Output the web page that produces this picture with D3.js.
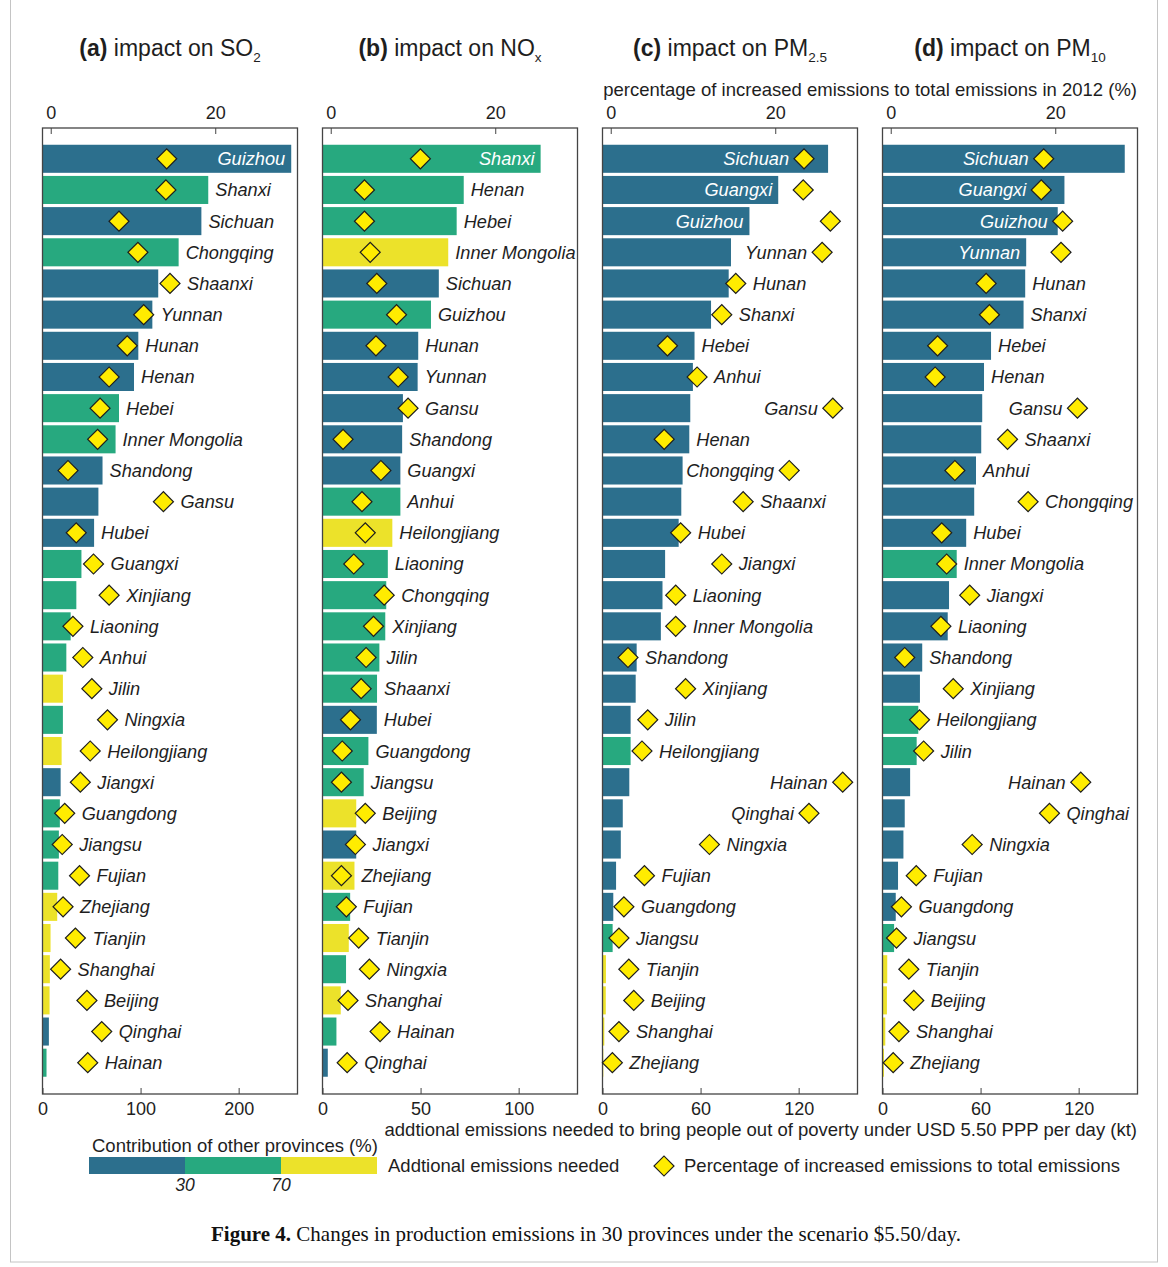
<!DOCTYPE html>
<html>
<head>
<meta charset="utf-8">
<script src="https://cdn.jsdelivr.net/npm/d3@7"></script>
<style>
  body { margin: 0; background: #fff; }
  svg { display: block; font-family: "Liberation Sans", Arial, Helvetica, sans-serif; }
</style>
</head>
<body>
<div id="chart"></div>
<script>
// contribution of other provinces: L = below 30 %, M = 30-70 %, H = above 70 %

// (a) SO2
const provincesSO2 = ['Guizhou','Shanxi','Sichuan','Chongqing','Shaanxi','Yunnan','Hunan','Henan','Hebei','Inner Mongolia',
  'Shandong','Gansu','Hubei','Guangxi','Xinjiang','Liaoning','Anhui','Jilin','Ningxia','Heilongjiang',
  'Jiangxi','Guangdong','Jiangsu','Fujian','Zhejiang','Tianjin','Shanghai','Beijing','Qinghai','Hainan'];
const emissionsSO2 = [253.6,169,162,138.8,118,112,97.7,93.3,78,74.5,61.2,57,52.6,39.7,34.5,28.7,24.3,20.8,20.8,19.5,
  18.5,17.7,16.7,16.1,15,8.2,7.5,7.2,6.5,4.1];
const percentSO2 = [14.1,14.0,8.3,10.6,14.5,11.3,9.3,7.1,6.0,5.7,2.1,13.7,3.1,5.2,7.1,2.7,3.9,5.0,6.9,4.8,
  3.6,1.7,1.4,3.5,1.5,3.0,1.2,4.4,6.2,4.5];
const contribSO2 = ['L','M','L','M','L','L','L','L','M','M','L','L','L','M','M','M','M','H','M','H',
  'L','M','M','M','H','H','H','H','L','M'];

// (b) NOx
const provincesNOx = ['Shanxi','Henan','Hebei','Inner Mongolia','Sichuan','Guizhou','Hunan','Yunnan','Gansu','Shandong',
  'Guangxi','Anhui','Heilongjiang','Liaoning','Chongqing','Xinjiang','Jilin','Shaanxi','Hubei','Guangdong',
  'Jiangsu','Beijing','Jiangxi','Zhejiang','Fujian','Tianjin','Ningxia','Shanghai','Hainan','Qinghai'];
const emissionsNOx = [111.2,72,68.4,64.1,59.3,55.3,48.8,48.5,41,40.6,39.7,39.7,35.6,33.3,32.5,32,29,27.8,27.7,23.4,
  21,17.2,17.2,16.3,14.1,13.4,12,9.3,7.1,2.7];
const percentNOx = [10.9,4.1,4.1,4.8,5.6,8.0,5.5,8.2,9.4,1.5,6.1,3.8,4.2,2.8,6.5,5.2,4.3,3.7,2.4,1.4,
  1.3,4.2,3.0,1.3,1.9,3.4,4.7,2.1,6.0,2.0];
const contribNOx = ['M','M','M','H','L','M','L','L','L','L','L','M','H','M','M','M','M','M','L','M',
  'M','H','L','H','M','H','M','H','M','L'];

// (c) PM2.5
const provincesPM25 = ['Sichuan','Guangxi','Guizhou','Yunnan','Hunan','Shanxi','Hebei','Anhui','Gansu','Henan',
  'Chongqing','Shaanxi','Hubei','Jiangxi','Liaoning','Inner Mongolia','Shandong','Xinjiang','Jilin','Heilongjiang',
  'Hainan','Qinghai','Ningxia','Fujian','Guangdong','Jiangsu','Tianjin','Beijing','Shanghai','Zhejiang'];
const emissionsPM25 = [138,107.5,89.9,78.6,77.2,66.4,56.3,55.3,53.7,53.1,49,48.2,46.6,38.3,36.7,35.7,20.9,20.3,17.2,17.2,
  16.4,12.4,11.2,8.3,6.6,6.2,2.1,2.0,1.1,0.5];
const percentPM25 = [23.5,23.4,26.7,25.7,15.2,13.5,6.9,10.5,27.0,6.5,21.7,16.1,8.5,13.5,7.9,7.9,2.1,9.1,4.5,3.8,
  28.2,24.1,12.0,4.1,1.6,1.0,2.2,2.8,1.0,0.2];
const contribPM25 = ['L','L','L','L','L','L','L','L','L','L','L','L','L','L','L','L','L','L','L','M',
  'L','L','L','L','L','M','H','H','H','H'];

// (d) PM10
const provincesPM10 = ['Sichuan','Guangxi','Guizhou','Yunnan','Hunan','Shanxi','Hebei','Henan','Gansu','Shaanxi',
  'Anhui','Chongqing','Hubei','Inner Mongolia','Jiangxi','Liaoning','Shandong','Xinjiang','Heilongjiang','Jilin',
  'Hainan','Qinghai','Ningxia','Fujian','Guangdong','Jiangsu','Tianjin','Beijing','Shanghai','Zhejiang'];
const emissionsPM10 = [148.2,111.3,107.2,87.9,87.3,86.3,66.4,62.1,61,60.4,57.2,56.1,51.2,45.4,40.7,39.9,24.3,22.9,21.9,20.9,
  16.9,13.6,12.8,9.5,8.1,7.1,2.9,2.7,1.7,0.9];
const percentPM10 = [18.6,18.3,20.9,20.7,11.6,12.0,5.7,5.4,22.7,14.2,7.8,16.7,6.2,6.8,9.6,6.1,1.7,7.6,3.5,4.0,
  23.1,19.3,9.9,3.1,1.3,0.7,2.2,2.8,1.0,0.3];
const contribPM10 = ['L','L','L','L','L','L','L','L','L','L','L','L','L','M','L','L','L','L','M','M',
  'L','L','L','L','L','M','H','H','H','H'];

// panel titles and axes
const titleLetters = ['(a)', '(b)', '(c)', '(d)'];
const titleSpecies = ['SO', 'NO', 'PM', 'PM'];
const titleSubs = ['2', 'x', '2.5', '10'];
const ktMax = [260, 130, 156, 156];
const ktTicks = [[0, 100, 200], [0, 50, 100], [0, 60, 120], [0, 60, 120]];
const pctTicks = [0, 20];
const legendBreaks = ['30', '70'];

const panels = [
  {prov: provincesSO2, kt: emissionsSO2, pct: percentSO2, cls: contribSO2},
  {prov: provincesNOx, kt: emissionsNOx, pct: percentNOx, cls: contribNOx},
  {prov: provincesPM25, kt: emissionsPM25, pct: percentPM25, cls: contribPM25},
  {prov: provincesPM10, kt: emissionsPM10, pct: percentPM10, cls: contribPM10}
];

const colour = d3.scaleOrdinal().domain(['L', 'M', 'H']).range(['#2c6f8d', '#27a97f', '#ece22a']);
const diamondFill = '#ffec00';
const ink = '#1e1e1e';
const frameTop = 128, frameBottom = 1094, frameW = 255;
const r = 10;
const diamond = d3.symbol().type(d3.symbolSquare).size(2 * r * r);
const textSize = 18.5;
const labelSize = 18.2;

const svg = d3.select('#chart').append('svg')
  .attr('width', 1168)
  .attr('height', 1267);

// light outer border of the figure
svg.append('rect')
  .attr('x', 10.5).attr('y', -2)
  .attr('width', 1147).attr('height', 1264)
  .attr('fill', 'none').attr('stroke', '#c4c4c4');

panels.forEach(function(p, i) {
  const L = 42.5 + i * 280, R = L + frameW;
  const x = d3.scaleLinear().domain([0, ktMax[i]]).range([L, R]);
  const xp = d3.scaleLinear().domain([-1, 30]).range([L, R]);
  const y = d3.scaleBand().domain(p.prov).range([143.2, 1078.3]).paddingInner(0.1).paddingOuter(0.05);
  const rows = p.prov.map(function(d, k) { return {name: d, kt: p.kt[k], pct: p.pct[k], cls: p.cls[k]}; });

  const g = svg.append('g');

  // title
  const t = g.append('text')
    .attr('x', (L + R) / 2)
    .attr('y', 56)
    .attr('text-anchor', 'middle')
    .attr('font-size', 23)
    .attr('fill', ink);
  t.append('tspan').attr('font-weight', 'bold').text(titleLetters[i]);
  t.append('tspan').text(' impact on ' + titleSpecies[i]);
  t.append('tspan').attr('font-size', 13.5).attr('dy', 6).text(titleSubs[i]);

  // bars
  g.selectAll('.bar')
    .data(rows)
    .enter()
    .append('rect')
    .attr('class', 'bar')
    .attr('x', L)
    .attr('y', function(d) { return y(d.name); })
    .attr('width', function(d) { return x(d.kt) - L; })
    .attr('height', y.bandwidth())
    .attr('fill', function(d) { return colour(d.cls); });

  // frame
  g.append('rect')
    .attr('x', L).attr('y', frameTop)
    .attr('width', frameW).attr('height', frameBottom - frameTop)
    .attr('fill', 'none').attr('stroke', '#444').attr('stroke-width', 1.3);

  // top axis (percentage)
  g.append('g')
    .attr('transform', 'translate(0,' + frameTop + ')')
    .call(d3.axisTop(xp).tickValues(pctTicks).tickSize(-6).tickSizeOuter(0).tickPadding(9))
    .call(function(a) { a.select('.domain').remove(); })
    .call(function(a) {
      a.attr('font-family', null).attr('font-size', 18);
      a.selectAll('line').attr('stroke', '#444');
      a.selectAll('text').attr('fill', ink);
    });

  // bottom axis (kt)
  g.append('g')
    .attr('transform', 'translate(0,' + frameBottom + ')')
    .call(d3.axisBottom(x).tickValues(ktTicks[i]).tickSize(-6).tickSizeOuter(0).tickPadding(8))
    .call(function(a) { a.select('.domain').remove(); })
    .call(function(a) {
      a.attr('font-family', null).attr('font-size', 18);
      a.selectAll('line').attr('stroke', '#444');
      a.selectAll('text').attr('fill', ink);
    });

  // diamonds
  g.selectAll('.dia')
    .data(rows)
    .enter()
    .append('path')
    .attr('class', 'dia')
    .attr('d', diamond)
    .attr('transform', function(d) { return 'translate(' + xp(d.pct) + ',' + (y(d.name) + y.bandwidth() / 2) + ') rotate(45)'; })
    .attr('fill', diamondFill)
    .attr('stroke', ink)
    .attr('stroke-width', 1.2);

  // province labels, placed beside the bar / diamond
  g.selectAll('.lab')
    .data(rows)
    .enter()
    .append('text')
    .attr('class', 'lab')
    .attr('y', function(d) { return y(d.name) + y.bandwidth() / 2 + 6.5; })
    .attr('font-size', labelSize)
    .attr('font-style', 'italic')
    .text(function(d) { return d.name; })
    .each(function(d) {
      const w = this.getComputedTextLength();
      const xb = x(d.kt), xd = xp(d.pct);
      const el = d3.select(this);
      const startRight = Math.max(xb, xd + r) + 7;
      if (startRight + w <= R + 1.5) {
        el.attr('x', startRight).attr('text-anchor', 'start').attr('fill', ink);
      } else if (xd - r > xb && xd - r - 5 - w >= xb + 1) {
        el.attr('x', xd - r - 5).attr('text-anchor', 'end').attr('fill', ink);
      } else {
        let end = xb - 6;
        if (xd + r + 6 + w > end) end = Math.min(end, xd - r - 5);
        el.attr('x', end).attr('text-anchor', 'end').attr('fill', '#fff');
      }
    });
});

// shared axis titles
svg.append('text')
  .attr('x', 1137).attr('y', 96)
  .attr('text-anchor', 'end')
  .attr('font-size', textSize).attr('fill', ink)
  .text('percentage of increased emissions to total emissions in 2012 (%)');

svg.append('text')
  .attr('x', 1137).attr('y', 1136)
  .attr('text-anchor', 'end')
  .attr('font-size', textSize).attr('fill', ink)
  .text('addtional emissions needed to bring people out of poverty under USD 5.50 PPP per day (kt)');

// legend
const legX = d3.scaleLinear().domain([0, 100]).range([89, 377]);
const legendBands = [
  {from: 0, to: 33.33, cls: 'L'},
  {from: 33.33, to: 66.67, cls: 'M'},
  {from: 66.67, to: 100, cls: 'H'}
];

svg.append('text')
  .attr('x', 92).attr('y', 1152)
  .attr('font-size', textSize).attr('fill', ink)
  .text('Contribution of other provinces (%)');

svg.selectAll('.legband')
  .data(legendBands)
  .enter()
  .append('rect')
  .attr('class', 'legband')
  .attr('x', function(d) { return legX(d.from); })
  .attr('y', 1157)
  .attr('width', function(d) { return legX(d.to) - legX(d.from); })
  .attr('height', 17)
  .attr('fill', function(d) { return colour(d.cls); });

svg.selectAll('.legbreak')
  .data(legendBreaks)
  .enter()
  .append('text')
  .attr('class', 'legbreak')
  .attr('x', function(d, k) { return legX(legendBands[k].to); })
  .attr('y', 1191)
  .attr('text-anchor', 'middle')
  .attr('font-size', 17.5)
  .attr('font-style', 'italic')
  .attr('fill', ink)
  .text(function(d) { return d; });

svg.append('text')
  .attr('x', 388).attr('y', 1172)
  .attr('font-size', textSize).attr('fill', ink)
  .text('Addtional emissions needed');

svg.append('path')
  .attr('d', diamond)
  .attr('transform', 'translate(664,1166) rotate(45)')
  .attr('fill', diamondFill)
  .attr('stroke', ink)
  .attr('stroke-width', 1.2);

svg.append('text')
  .attr('x', 684).attr('y', 1172)
  .attr('font-size', textSize).attr('fill', ink)
  .text('Percentage of increased emissions to total emissions');

// caption
const cap = svg.append('text')
  .attr('x', 586).attr('y', 1241)
  .attr('text-anchor', 'middle')
  .attr('font-family', '"Liberation Serif", "Times New Roman", serif')
  .attr('font-size', 21)
  .attr('fill', '#111');
cap.append('tspan').attr('font-weight', 'bold').text('Figure 4.');
cap.append('tspan').text(' Changes in production emissions in 30 provinces under the scenario $5.50/day.');
</script>
</body>
</html>
